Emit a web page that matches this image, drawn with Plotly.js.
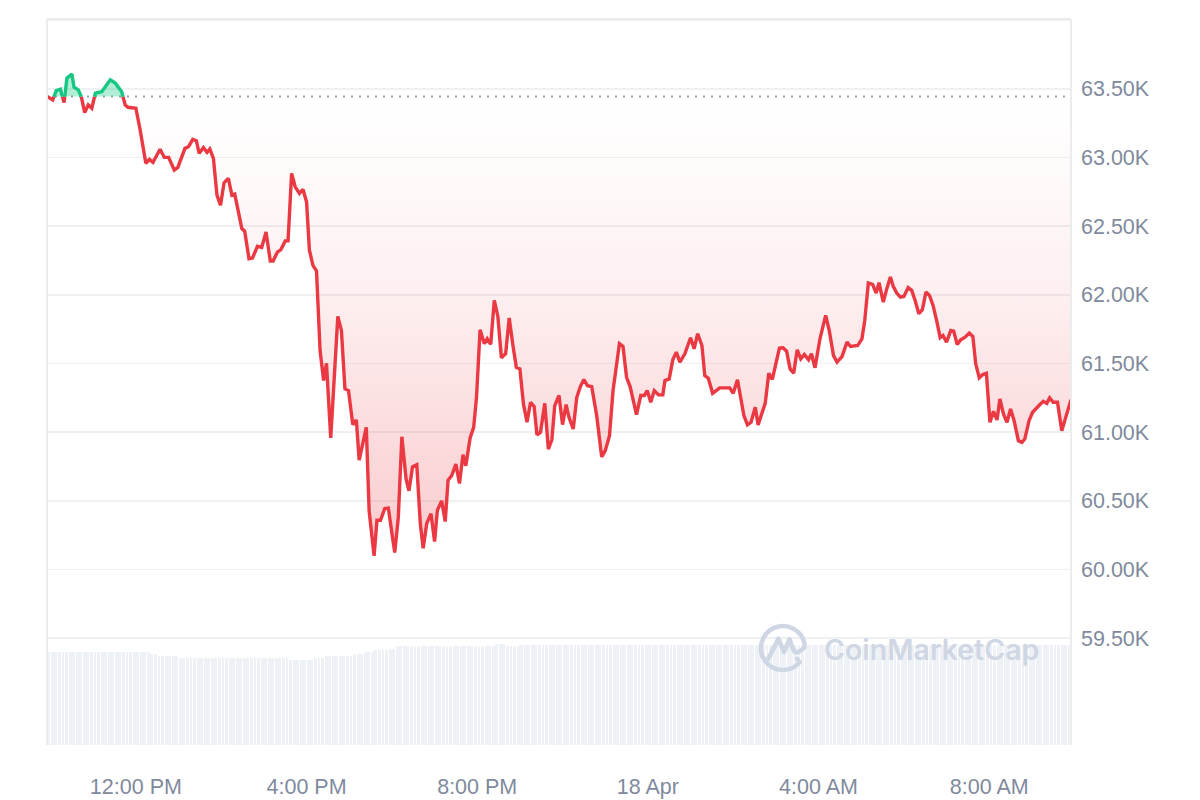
<!DOCTYPE html>
<html><head><meta charset="utf-8">
<script src="https://cdn.plot.ly/plotly-3.0.1.min.js"></script>
<style>html,body{margin:0;padding:0;background:#fff;}#chart{width:1200px;height:800px;}</style>
</head><body><div id="chart"></div>
<script>
// ---- data ----
const startTime = Date.UTC(2024, 3, 17, 9, 55);   // 17 Apr 2024 09:55
const endTime   = Date.UTC(2024, 3, 18, 9, 55);
const openPrice = 63444;   // reference (dotted) price

// minutes after start
const minutes = [0,8,13,19,24,28,35,38,44,48,
53,58,63,68,77,89,96,105,110,114,
125,131,139,144,149,159,165,171,179,184,
194,199,205,210,214,220,225,229,234,239,
244,249,255,260,264,274,278,284,289,296,
302,308,314,318,324,329,335,339,344,349,
355,360,365,369,374,379,384,389,393,399,
404,409,414,419,424,430,435,439,449,453,
460,464,469,475,480,489,494,499,505,509,
514,520,525,529,534,540,545,549,555,560,
564,569,575,580,585,589,595,600,604,609,
615,619,624,629,634,639,645,650,655,660,
665,670,675,680,685,689,694,700,705,710,
714,720,725,730,734,740,745,750,755,760,
766,773,780,785,791,796,805,810,815,820,
829,835,840,844,849,854,860,866,869,875,
880,885,890,897,905,910,915,921,925,930,
936,946,960,965,971,975,980,985,990,996,
1000,1005,1010,1015,1020,1025,1030,1035,1040,1045,
1050,1055,1060,1065,1071,1075,1080,1087,1091,1095,
1100,1106,1111,1118,1125,1130,1140,1146,1150,1155,
1161,1166,1170,1176,1181,1186,1190,1195,1200,1205,
1211,1216,1221,1226,1231,1236,1241,1246,1251,1256,
1260,1265,1271,1275,1280,1285,1291,1297,1302,1306,
1311,1316,1321,1326,1331,1336,1340,1345,1350,1355,
1360,1366,1371,1375,1381,1386,1395,1401,1406,1410,
1415,1421,1427,1433,1438,1440];

const prices = [63447,63420,63488,63498,63400,63578,63609,63512,63493,63449,
63327,63383,63359,63469,63480,63566,63542,63480,63383,63366,
63359,63201,62958,62987,62965,63060,63001,63001,62909,62928,
63067,63079,63133,63123,63031,63072,63038,63062,62994,62726,
62653,62816,62848,62726,62734,62483,62464,62264,62269,62354,
62345,62458,62247,62247,62312,62330,62393,62393,62885,62787,
62739,62768,62677,62325,62215,62174,61595,61376,61502,60958,
61400,61843,61741,61315,61303,61055,61089,60797,61035,60427,
60099,60359,60359,60444,60447,60123,60378,60967,60658,60573,
60748,60763,60330,60155,60335,60407,60203,60432,60500,60349,
60651,60683,60768,60626,60836,60756,60958,61035,61254,61746,
61644,61680,61639,61960,61843,61542,61571,61832,61639,61473,
61461,61206,61072,61218,61188,60980,60999,61210,60877,60945,
61194,61267,61055,61201,61108,61023,61254,61332,61383,61339,
61332,61121,60821,60865,60975,61303,61644,61624,61400,61332,
61128,61267,61267,61303,61218,61303,61272,61272,61376,61388,
61527,61583,61510,61571,61688,61607,61717,61631,61412,61393,
61283,61323,61323,61283,61381,61267,61121,61053,61072,61181,
61053,61133,61210,61429,61385,61500,61613,61615,61590,61461,
61429,61600,61534,61566,61527,61571,61469,61680,61777,61850,
61741,61558,61510,61551,61656,61624,61631,61680,61814,62086,
62077,62013,62089,61947,62045,62130,62062,62013,61984,61989,
62053,62033,61955,61863,61892,62021,61996,61923,61814,61688,
61704,61656,61741,61736,61639,61673,61692,61721,61697,61498,
61396,61420,61429,61072,61152,61089,61242,61133,61072,61169,
61084,60938,60926,60950,61084,61145,61194,61225,61210,61250,
61218,61218,61011,61121,61218,61237];

// 5-minute volume bars (billions USD)
const volumes = [
38.9,38.9,38.9,38.9,38.9,38.9,38.9,38.9,38.9,38.9,38.9,38.9,38.9,38.9,38.9,38.9,38.9,38.9,38.9,38.9,38.9,38.9,38.9,38.9,
38.9,38.9,38.9,38.9,38.9,38.1,38.1,37.3,37.3,37.3,37.3,37.3,37.3,36.4,36.4,36.4,36.4,36.4,36.4,36.4,36.4,36.4,36.4,36.4,
36.4,36.4,36.4,36.4,36.4,36.4,36.4,36.4,36.4,36.4,36.4,36.4,36.4,36.4,36.4,36.4,36.4,36.4,36.4,36.4,35.6,35.6,35.6,35.6,
35.6,35.6,35.6,36.4,36.4,36.4,37.3,37.3,37.3,37.3,37.3,37.3,37.3,37.3,38.1,38.1,38.1,38.9,38.9,38.9,39.8,39.8,39.8,39.8,
40.4,40.4,41.5,41.5,41.5,41.5,41.5,41.5,41.5,41.5,41.5,41.5,41.5,41.5,41.5,41.5,41.5,41.5,41.5,41.5,41.5,41.5,41.5,41.5,
41.5,41.5,41.5,41.5,41.5,41.5,42.3,42.3,42.3,41.5,41.5,41.5,41.5,42.2,42.2,42.2,42.2,42.2,42.2,42.2,42.2,42.2,42.2,42.2,
42.2,42.2,42.2,42.2,42.2,42.2,42.2,42.2,42.2,42.2,42.2,42.2,42.2,42.2,42.2,42.2,42.2,42.2,42.2,42.2,42.2,42.2,42.2,42.2,
42.2,42.2,42.2,42.2,42.2,42.2,42.2,42.2,42.2,42.2,42.2,42.2,42.2,42.2,42.2,42.2,42.2,42.2,42.2,42.2,42.2,42.2,42.2,42.2,
42.2,42.2,42.2,42.2,42.2,42.2,42.2,42.2,42.2,42.2,42.2,42.2,42.2,42.2,42.2,42.2,42.2,42.2,42.2,42.2,42.2,42.2,42.2,42.2,
42.2,42.2,42.2,42.2,42.2,42.2,42.2,42.2,42.2,42.2,42.2,42.2,42.2,42.2,42.2,42.2,42.2,42.2,42.2,42.2,42.2,42.2,42.2,42.2,
42.2,42.2,42.2,42.2,42.2,42.2,42.2,42.2,42.2,42.2,42.2,42.2,42.2,42.2,42.2,42.2,42.2,42.2,42.2,42.2,42.2,42.2,42.2,42.2,
42.2,42.2,42.2,42.2,42.2,42.2,42.2,42.2,42.2,42.2,42.2,42.2,42.2,42.2,42.2,42.2,42.2,42.2,42.2,42.2,42.2,42.2,42.2,42.2];

const xTickVals = ['2024-04-17 12:00','2024-04-17 16:00','2024-04-17 20:00','2024-04-18 00:00','2024-04-18 04:00','2024-04-18 08:00'];
const xTickText = ['12:00 PM','4:00 PM','8:00 PM','18 Apr','4:00 AM','8:00 AM'];
const yTickVals = [59500,60000,60500,61000,61500,62000,62500,63000,63500,64000];
const yTickText = ['59.50K','60.00K','60.50K','61.00K','61.50K','62.00K','62.50K','63.00K','63.50K',''];

// ---- build ----
const MIN = 60000;
const T = [], P = [];
for (let i = 0; i < prices.length; i++) {
  const t = startTime + minutes[i] * MIN;
  T.push(t); P.push(prices[i]);
  if (i < prices.length - 1) {
    const a = prices[i] - openPrice, b = prices[i + 1] - openPrice;
    if (a * b < 0) {
      const t2 = startTime + minutes[i + 1] * MIN;
      T.push(t + (t2 - t) * (-a) / (b - a));
      P.push(openPrice);
    }
  }
}
const base = T.map(() => openPrice);
const redY = P.map(v => v <= openPrice ? v : null);
const greenY = P.map(v => v >= openPrice ? v : null);
const belowY = P.map(v => Math.min(v, openPrice));
const aboveY = P.map(v => Math.max(v, openPrice));

const RED = '#ea3943', GREEN = '#16c784';
const volX = volumes.map((v, i) => startTime + (i * 5 + 2.5) * MIN);

const traces = [
  {type:'bar', x: volX, y: volumes, width: volumes.map(() => 4.1 * MIN), xaxis:'x', yaxis:'y',
   marker:{color:'#eef1f5', line:{width:0}}, hoverinfo:'skip'},
  {type:'scatter', mode:'lines', x:T, y:base, yaxis:'y2', line:{width:0}, hoverinfo:'skip'},
  {type:'scatter', mode:'lines', x:T, y:belowY, yaxis:'y2', fill:'tonexty', line:{width:0}, hoverinfo:'skip',
   fillgradient:{type:'vertical', start:60000, stop:openPrice,
     colorscale:[[0,'rgba(234,57,67,0.27)'],[0.58,'rgba(234,57,67,0.08)'],[0.84,'rgba(234,57,67,0.025)'],[1,'rgba(234,57,67,0)']]}},
  {type:'scatter', mode:'lines', x:T, y:base, yaxis:'y2', line:{width:0}, hoverinfo:'skip'},
  {type:'scatter', mode:'lines', x:T, y:aboveY, yaxis:'y2', fill:'tonexty', fillcolor:'rgba(22,199,132,0.33)', line:{width:0}, hoverinfo:'skip'},
  {type:'scatter', mode:'lines', x:T, y:redY, yaxis:'y2', connectgaps:false, line:{color:RED, width:3.4, shape:'linear'}},
  {type:'scatter', mode:'lines', x:T, y:greenY, yaxis:'y2', connectgaps:false, line:{color:GREEN, width:3.4, shape:'linear'}}
];

const tickFont = {family:'"Liberation Sans", Arial, Helvetica, sans-serif', size:21.5, color:'#808a9d'};

const logoSvg = '<svg xmlns="http://www.w3.org/2000/svg" viewBox="0 0 50 50">' +
  '<path d="M46.67 21.18 A22 22 0 1 0 41.85 39.14 L39 35.8" fill="none" stroke="#cfd6e4" stroke-width="4.5" stroke-linecap="round" stroke-linejoin="round"/>' +
  '<path d="M10.5 35.5 L20.5 15.5 L26 29 L31.5 16 L35.5 27 Q38.5 33 46.5 24" fill="none" stroke="#cfd6e4" stroke-width="4.5" stroke-linecap="round" stroke-linejoin="round"/></svg>';

const layout = {
  width:1200, height:800,
  margin:{l:47, r:129, t:19, b:55, pad:0},
  paper_bgcolor:'#ffffff', plot_bgcolor:'#ffffff',
  showlegend:false, bargap:0, hovermode:false,
  xaxis:{type:'date', range:[startTime, endTime], tickmode:'array', tickvals:xTickVals, ticktext:xTickText,
         showgrid:false, zeroline:false, showline:false, ticks:'', tickfont:tickFont, ticklabelstandoff:26, fixedrange:true},
  yaxis:{range:[0,305], visible:false, fixedrange:true},
  yaxis2:{overlaying:'y', side:'right', range:[58722,64009], tickmode:'array', tickvals:yTickVals, ticktext:yTickText,
          showgrid:true, gridcolor:'#eff0f2', gridwidth:1.5, zeroline:false, showline:false, ticks:'',
          tickfont:tickFont, ticklabelstandoff:9, fixedrange:true},
  shapes:[
    {type:'line', xref:'paper', yref:'y2', x0:0, x1:1, y0:openPrice, y1:openPrice, layer:'below',
     line:{color:'#9ea3ab', width:2, dash:'2px,6px'}},
    {type:'line', xref:'paper', yref:'paper', x0:0, x1:0, y0:0, y1:1, layer:'above', line:{color:'#ececec', width:2}},
    {type:'line', xref:'paper', yref:'paper', x0:1, x1:1, y0:0, y1:1, layer:'above', line:{color:'#ececec', width:2}},
    {type:'line', xref:'paper', yref:'paper', x0:0, x1:1, y0:1, y1:1, layer:'above', line:{color:'#ececec', width:2}}
  ],
  annotations:[
    {xref:'paper', yref:'paper', x:0.7568, y:0.1322, xanchor:'left', yanchor:'middle', showarrow:false,
     text:'CoinMarketCap', font:{family:'Inter, "Open Sans", sans-serif', size:28.5, color:'#cfd6e4', weight:600}}
  ],
  images:[
    {source:'data:image/svg+xml;charset=utf-8,' + encodeURIComponent(logoSvg), xref:'paper', yref:'paper',
     x:0.6943, y:0.1680, sizex:0.04883, sizey:0.06887, xanchor:'left', yanchor:'top', sizing:'stretch', layer:'above'}
  ]
};

Plotly.newPlot('chart', traces, layout, {displayModeBar:false, staticPlot:true});
</script></body></html>
